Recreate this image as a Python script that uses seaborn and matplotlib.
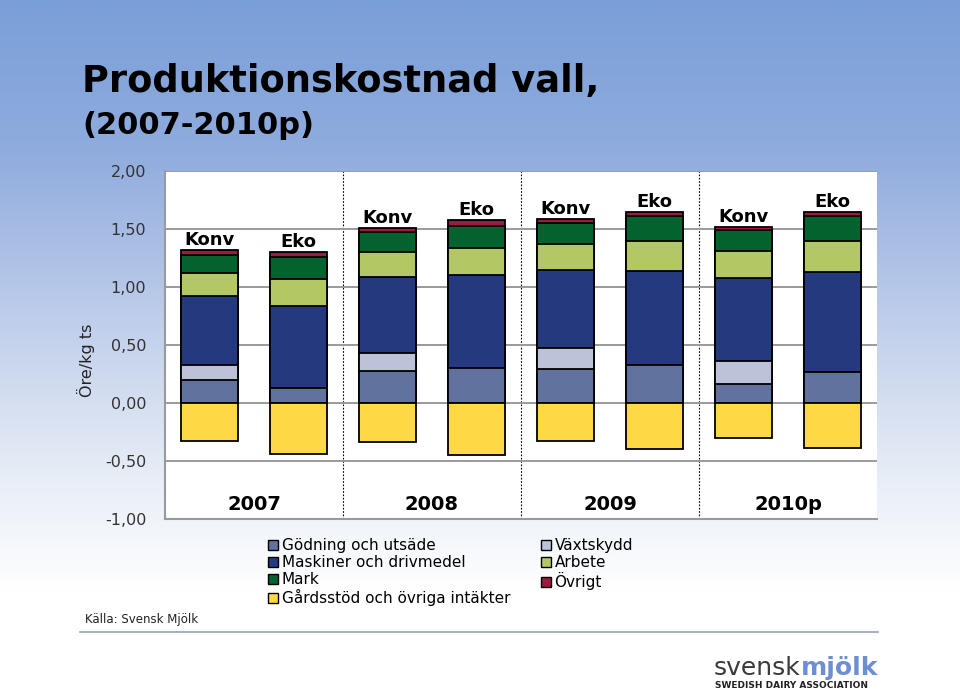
"""Produktionskostnad vall 2007-2010p, stacked cost bars per system and year."""

import matplotlib

matplotlib.use("Agg")

import matplotlib.pyplot as plt
import matplotlib.ticker as mticker
import numpy as np
import pandas as pd
import seaborn as sns
from matplotlib.colors import LinearSegmentedColormap
from matplotlib.lines import Line2D
from matplotlib.patches import Patch


YEARS = ["2007", "2008", "2009", "2010p"]
SYSTEMS = ["Konv", "Eko", "Konv", "Eko", "Konv", "Eko", "Konv", "Eko"]
BARS = [f"{year} {system}" for year in YEARS for system in ("Konv", "Eko")]

# cost components, ore per kg ts, stacked bottom to top
GODNING = [0.20, 0.13, 0.28, 0.30, 0.29, 0.33, 0.16, 0.27]
VAXTSKYDD = [0.13, 0.00, 0.15, 0.00, 0.18, 0.00, 0.20, 0.00]
MASKINER = [0.59, 0.71, 0.66, 0.80, 0.68, 0.81, 0.72, 0.86]
ARBETE = [0.20, 0.23, 0.21, 0.24, 0.22, 0.26, 0.23, 0.27]
MARK = [0.16, 0.19, 0.17, 0.19, 0.18, 0.21, 0.18, 0.21]
OVRIGT = [0.04, 0.04, 0.04, 0.05, 0.04, 0.04, 0.03, 0.04]
# income, drawn below zero
GARDSSTOD = [-0.33, -0.44, -0.34, -0.45, -0.33, -0.40, -0.30, -0.39]

LAYERS = [
    ("Gödning och utsäde", GODNING, "#61729E"),
    ("Växtskydd", VAXTSKYDD, "#BCC3D8"),
    ("Maskiner och drivmedel", MASKINER, "#253A7E"),
    ("Arbete", ARBETE, "#B3C764"),
    ("Mark", MARK, "#04622F"),
    ("Övrigt", OVRIGT, "#A0193F"),
]
INCOME_LABEL = "Gårdsstöd och övriga intäkter"
INCOME_COLOR = "#FFD945"

W, H = 960, 690
BAR_KW = dict(width=0.63, saturation=1, edgecolor="black", linewidth=1.3, errorbar=None)


def build_frame() -> pd.DataFrame:
    rows = []
    for i, bar in enumerate(BARS):
        top = 0.0
        for name, values, _ in LAYERS:
            top += values[i]
            rows.append({"bar": bar, "layer": name, "top": top})
    return pd.DataFrame(rows)


def px(x, y):
    """Pixel position (from top left) to figure fraction."""
    return x / W, 1 - y / H


def main() -> None:
    sns.set_style("white")
    plt.rcParams["font.family"] = ["DejaVu Sans"]
    plt.rcParams["text.color"] = "black"

    fig = plt.figure(figsize=(W / 100, H / 100), dpi=100)

    # slide background: blue fading to white
    bg = fig.add_axes([0, 0, 1, 1], zorder=0)
    cmap = LinearSegmentedColormap.from_list(
        "slide",
        [(0.0, "#7A9FD8"), (0.22, "#90ACDE"), (0.5, "#C6D3EC"), (0.68, "#E6ECF6"), (0.86, "#FFFFFF"), (1.0, "#FFFFFF")],
    )
    bg.imshow(np.linspace(0, 1, 256)[:, None], aspect="auto", cmap=cmap, extent=(0, 1, 0, 1))
    bg.set_axis_off()

    ax = fig.add_axes([165 / W, 1 - 519 / H, 712 / W, 348 / H], zorder=1)
    ax.set_facecolor("white")

    frame = build_frame()
    for name, _, color in reversed(LAYERS):
        sns.barplot(data=frame[frame["layer"] == name], x="bar", y="top", order=BARS, color=color, ax=ax, **BAR_KW)
    income = pd.DataFrame({"bar": BARS, "value": GARDSSTOD})
    sns.barplot(data=income, x="bar", y="value", order=BARS, color=INCOME_COLOR, ax=ax, **BAR_KW)

    ax.set_xlim(-0.5, len(BARS) - 0.5)
    ax.set_ylim(-1.0, 2.0)
    ax.set_xticks([])
    ax.set_xlabel("")
    ax.set_yticks(np.arange(-1.0, 2.01, 0.5))
    ax.yaxis.set_major_formatter(mticker.FuncFormatter(lambda v, _: f"{v:.2f}".replace(".", ",")))
    ax.tick_params(axis="y", length=5, width=1.5, color="#9A9A9A", labelsize=11.5, labelcolor="#333333", pad=8.5)
    ax.yaxis.grid(True, color="#9A9A9A", linewidth=1.4)
    ax.set_axisbelow(True)
    for side in ("top", "right"):
        ax.spines[side].set_visible(False)
    for side in ("left", "bottom"):
        ax.spines[side].set_color("#9A9A9A")
        ax.spines[side].set_linewidth(1.5)

    ax.set_ylabel("Öre/kg ts", fontsize=11.5, color="#222222")
    ax.yaxis.set_label_coords(-0.098, 0.457)

    for sep in (1.5, 3.5, 5.5):
        ax.axvline(sep, color="black", linestyle=(0, (1.5, 1.5)), linewidth=0.8, zorder=0.5)

    totals = frame.groupby("bar", sort=False)["top"].max().reindex(BARS)
    for i, (system, total) in enumerate(zip(SYSTEMS, totals)):
        ax.text(i, total + 0.085, system, ha="center", va="center", fontsize=13, fontweight="bold")
    for k, year in enumerate(YEARS):
        ax.text(2 * k + 0.5, -0.875, year, ha="center", va="center", fontsize=14, fontweight="bold")

    # legend in the row order of the original (two columns)
    colors = {name: color for name, _, color in LAYERS}
    colors[INCOME_LABEL] = INCOME_COLOR
    order = ["Gödning och utsäde", "Maskiner och drivmedel", "Mark", INCOME_LABEL, "Växtskydd", "Arbete", "Övrigt"]
    handles = [Patch(facecolor=colors[n], edgecolor="black", linewidth=1.0) for n in order]
    fig.legend(
        handles,
        order,
        loc="upper left",
        bbox_to_anchor=px(268, 538),
        ncol=2,
        frameon=False,
        fontsize=11,
        labelcolor="black",
        handlelength=0.65,
        handleheight=0.65,
        handletextpad=0.25,
        labelspacing=0.13,
        columnspacing=2.0,
        borderpad=0,
        borderaxespad=0,
    )

    fig.text(*px(82, 92), "Produktionskostnad vall,", fontsize=26.5, fontweight="bold", va="baseline")
    fig.text(*px(82, 134), "(2007-2010p)", fontsize=22, fontweight="bold", va="baseline")

    fig.text(*px(85, 619), "Källa: Svensk Mjölk", fontsize=8.5, color="#222222", va="center")
    fig.add_artist(Line2D([80 / W, 878 / W], [1 - 632 / H] * 2, color="#A8B0BE", linewidth=1.5))

    # logo
    left = fig.text(*px(714, 675), "svensk", fontsize=18, color="#3A3A3A", va="baseline")
    fig.canvas.draw()
    x1 = left.get_window_extent().x1 / W
    fig.text(x1, 1 - 675 / H, "mjölk", fontsize=18, fontweight="bold", color="#6C8ED2", va="baseline")
    fig.text(*px(715, 685), "SWEDISH DAIRY ASSOCIATION", fontsize=6.5, fontweight="bold", color="#222222", va="center")

    fig.savefig("out.png", dpi=100)
    plt.close(fig)


if __name__ == "__main__":
    main()
